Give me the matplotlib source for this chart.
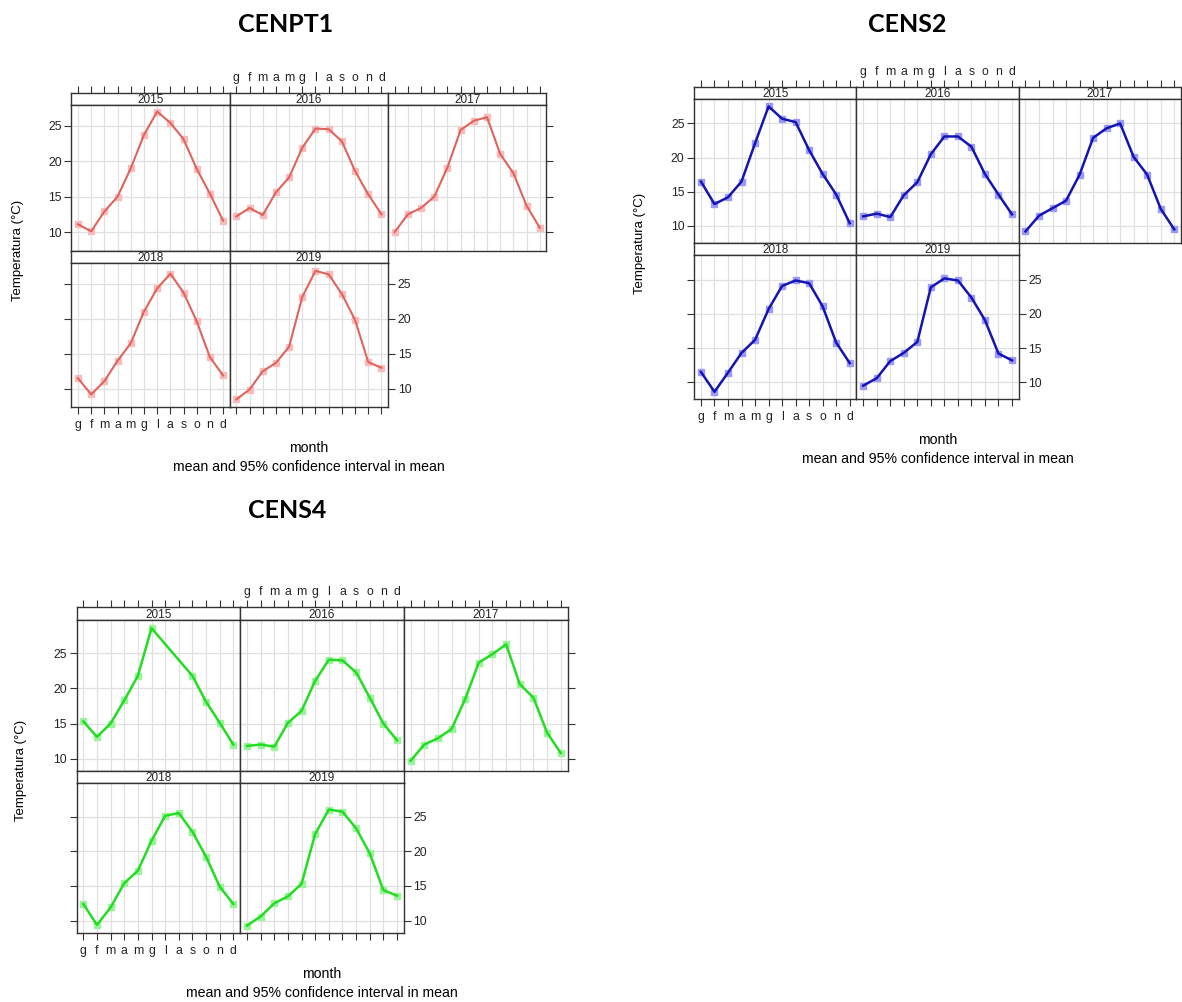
import matplotlib
matplotlib.use("Agg")
import matplotlib.pyplot as plt
import numpy as np

plt.rcParams["font.family"] = ["Liberation Sans", "DejaVu Sans"]

# Italian month initials
months = ["g", "f", "m", "a", "m", "g", "l", "a", "s", "o", "n", "d"]
years = ["2015", "2016", "2017", "2018", "2019"]
yticks = [10, 15, 20, 25]

# monthly mean temperature (°C), one row per year 2015..2019
cenpt1 = [
    [11.1, 10.1, 12.9, 15.0, 19.0, 23.7, 27.0, 25.4, 23.1, 18.9, 15.4, 11.6],
    [12.2, 13.4, 12.4, 15.6, 17.7, 21.9, 24.6, 24.5, 22.8, 18.6, 15.3, 12.5],
    [10.0, 12.5, 13.4, 15.0, 19.1, 24.4, 25.7, 26.2, 21.0, 18.3, 13.7, 10.6],
    [11.5, 9.2, 11.1, 14.0, 16.5, 21.0, 24.3, 26.4, 23.7, 19.6, 14.5, 11.9],
    [8.5, 9.9, 12.5, 13.7, 16.0, 23.1, 26.8, 26.3, 23.5, 19.8, 13.8, 13.0],
]
cens2 = [
    [16.5, 13.2, 14.2, 16.5, 22.1, 27.5, 25.7, 25.2, 21.1, 17.6, 14.6, 10.4],
    [11.4, 11.8, 11.3, 14.5, 16.4, 20.5, 23.1, 23.1, 21.6, 17.6, 14.6, 11.7],
    [9.2, 11.5, 12.6, 13.7, 17.5, 22.9, 24.3, 25.0, 20.1, 17.5, 12.5, 9.5],
    [11.5, 8.6, 11.4, 14.3, 16.2, 20.7, 24.1, 24.9, 24.5, 21.1, 15.8, 12.8],
    [9.5, 10.6, 13.1, 14.3, 15.9, 23.9, 25.2, 24.9, 22.4, 19.1, 14.2, 13.2],
]
cens4 = [
    [15.3, 13.1, 15.0, 18.3, 21.8, 28.6, np.nan, np.nan, 21.8, 18.1, 15.1, 12.0],
    [11.8, 12.0, 11.7, 15.1, 16.8, 21.1, 24.1, 24.0, 22.3, 18.7, 15.0, 12.6],
    [9.7, 12.0, 12.9, 14.2, 18.5, 23.7, 24.9, 26.3, 20.6, 18.7, 13.7, 10.8],
    [12.4, 9.4, 11.9, 15.4, 17.2, 21.5, 25.1, 25.5, 22.8, 19.2, 14.9, 12.4],
    [9.3, 10.6, 12.5, 13.5, 15.3, 22.5, 26.0, 25.7, 23.3, 19.7, 14.4, 13.6],
]

W, H = 1182, 1002
fig = plt.figure(figsize=(W / 100, H / 100), dpi=100)

frame_c = "#333333"
tick_c = "#333333"
x = np.arange(1, 13)


def px_axes(x0, y0, x1, y1):
    return fig.add_axes([x0 / W, 1 - y1 / H, (x1 - x0) / W, (y1 - y0) / H])


def style_frame(ax):
    for s in ax.spines.values():
        s.set_color(frame_c)
        s.set_linewidth(1.0)
    ax.tick_params(which="both", direction="out", length=5, width=0.8,
                   color=tick_c, labelcolor="#222222", labelsize=8.8,
                   top=False, bottom=False, left=False, right=False,
                   labeltop=False, labelbottom=False, labelleft=False,
                   labelright=False)


def draw_block(title, data, line_c, pt_c, lw, left, right, top, mid, bottom,
               strip_h, ylim, title_xy, ylab_x):
    cw = (right - left) / 3
    cells = [(0, 0), (0, 1), (0, 2), (1, 0), (1, 1)]
    for k, (r, c) in enumerate(cells):
        x0 = left + c * cw
        x1 = x0 + cw
        s0 = top if r == 0 else mid
        p1 = mid if r == 0 else bottom
        # strip
        st = px_axes(x0, s0, x1, s0 + strip_h)
        st.set_facecolor("white")
        style_frame(st)
        st.set_xlim(0.5, 12.5)
        st.set_ylim(0, 1)
        st.set_yticks([])
        st.set_xticks(x)
        st.set_xticklabels(months)
        st.text(0.5, 0.42, years[k], transform=st.transAxes, ha="center",
                va="center", fontsize=8.5, color="#222222")
        if r == 0:
            st.tick_params(top=True, labeltop=(c == 1), pad=1.5)
        # panel
        ax = px_axes(x0, s0 + strip_h, x1, p1)
        style_frame(ax)
        ax.set_xlim(0.5, 12.5)
        ax.set_ylim(*ylim)
        ax.set_xticks(x)
        ax.set_xticklabels(months)
        ax.set_yticks(yticks)
        ax.grid(True, color="#e0e0e0", linewidth=0.9, zorder=0)
        ax.set_axisbelow(True)
        vals = np.array(data[k], dtype=float)
        ok = ~np.isnan(vals)
        ax.plot(x[ok], vals[ok], linestyle="none", marker="s", ms=4.5,
                mfc=pt_c, mec=pt_c, zorder=2)
        ax.plot(x[ok], vals[ok], color=line_c, linewidth=lw, zorder=3)
        if r == 0 and c == 0:
            ax.tick_params(left=True, labelleft=True, pad=2)
        if r == 0 and c == 2:
            ax.tick_params(right=True)
        if r == 1:
            ax.tick_params(bottom=True, labelbottom=(c == 0), pad=3.5)
            if c == 0:
                ax.tick_params(left=True)
            if c == 1:
                ax.tick_params(right=True, labelright=True, pad=2)

    cx = (left + right) / 2
    fig.text(title_xy[0] / W, 1 - title_xy[1] / H, title, family="Lato",
             fontweight="bold", fontsize=18, ha="center", va="center")
    fig.text(ylab_x / W, 1 - ((top + bottom) / 2) / H, "Temperatura (°C)",
             rotation=90, ha="center", va="center", fontsize=9.5)
    fig.text(cx / W, 1 - (bottom + 41) / H, "month", ha="center",
             va="center", fontsize=10.2)
    fig.text(cx / W, 1 - (bottom + 60) / H,
             "mean and 95% confidence interval in mean", ha="center",
             va="center", fontsize=10.2)


draw_block("CENPT1", cenpt1, "#e0635d", "#f6bcbc", 1.5,
           71.4, 546.4, 92.7, 250.7, 407.3, 12.3, (7.37, 27.92),
           (286, 25), 18)
draw_block("CENS2", cens2, "#1414b4", "#9a9af4", 1.8,
           694.2, 1181, 86.7, 243, 399.3, 12.2, (7.5, 28.6),
           (907, 25), 640)
draw_block("CENS4", cens4, "#22dd22", "#9cf29c", 1.8,
           76.5, 567.5, 607.3, 770.7, 932.7, 12.6, (8.27, 29.78),
           (287, 510), 21)

fig.savefig("out.png", dpi=100, facecolor="white")
